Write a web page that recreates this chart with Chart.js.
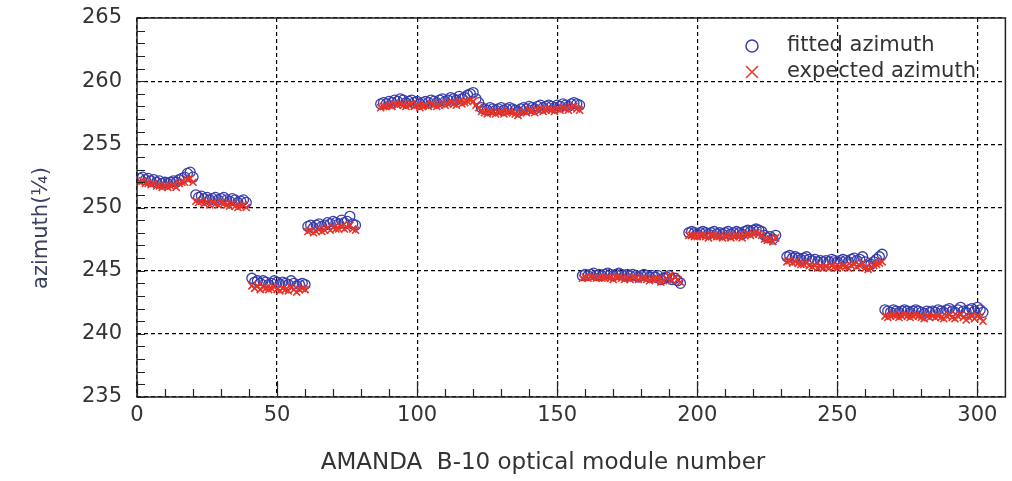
<!DOCTYPE html>
<html>
<head>
<meta charset="utf-8">
<script src="https://cdn.jsdelivr.net/npm/chart.js@4/dist/chart.umd.min.js"></script>
<style>
html,body{margin:0;padding:0;background:#fff;}
#wrap{width:1012px;height:481px;}
</style>
</head>
<body>
<div id="wrap"><canvas id="c" width="1012" height="481"></canvas></div>
<script>
// Tick labels
const xTicks = [0, 50, 100, 150, 200, 250, 300];
const yTicks = [235, 240, 245, 250, 255, 260, 265];

// First module number of each string
const stringStarts = [1, 21, 41, 61, 87, 123, 159, 197, 232, 267];

// Fitted azimuth per string (consecutive modules)
const fitted1 = [252.3,252.4,252.2,252.3,252.1,252.2,252.0,252.1,251.9,252.0,251.9,252.0,252.1,252.0,252.2,252.3,252.4,252.7,252.8,252.4];
const fitted2 = [251.0,250.8,250.9,250.7,250.8,250.6,250.7,250.8,250.6,250.7,250.8,250.6,250.5,250.7,250.6,250.4,250.5,250.6,250.4];
const fitted3 = [244.4,244.1,244.2,244.0,244.2,244.1,243.9,244.0,244.2,244.1,243.9,244.1,244.0,243.9,244.2,244.0,243.8,243.9,244.0,243.9];
const fitted4 = [248.5,248.6,248.4,248.6,248.7,248.5,248.6,248.8,248.7,248.9,248.8,248.7,249.0,248.8,248.9,249.3,248.7,248.6];
const fitted5 = [258.2,258.3,258.2,258.4,258.3,258.5,258.4,258.6,258.5,258.3,258.4,258.5,258.3,258.4,258.2,258.3,258.4,258.3,258.5,258.4,258.3,258.5,258.6,258.4,258.5,258.7,258.6,258.5,258.8,258.6,258.7,258.9,259.0,259.1,258.6,258.3];
const fitted6 = [257.9,257.8,257.7,257.9,257.8,257.7,257.8,257.9,257.7,257.8,257.9,257.8,257.7,257.6,257.8,257.9,257.8,258.0,257.9,257.8,258.0,258.1,257.9,258.0,258.1,258.0,257.9,258.1,258.0,258.2,258.1,258.0,258.2,258.3,258.2,258.1];
const fitted7 = [244.6,244.7,244.6,244.7,244.8,244.6,244.7,244.6,244.7,244.8,244.7,244.6,244.7,244.8,244.7,244.6,244.7,244.6,244.7,244.6,244.5,244.6,244.7,244.6,244.5,244.6,244.5,244.6,244.3,244.4,244.5,244.6,244.3,244.4,244.2,244.0];
const fitted8 = [248.0,248.1,248.0,247.9,248.0,248.1,248.0,247.9,248.0,248.1,247.9,248.0,247.9,248.0,248.1,247.9,248.0,248.1,248.0,247.9,248.1,248.2,248.1,248.2,248.3,248.2,248.1,247.8,247.6,247.7,247.5,247.8];
const fitted9 = [246.1,246.2,246.0,246.1,246.0,245.9,246.0,246.1,245.9,245.8,245.9,245.7,245.8,245.7,245.8,245.7,245.9,245.8,245.7,245.8,245.9,245.8,245.7,245.9,246.0,245.8,245.9,246.1,245.7,245.4,245.5,245.7,245.9,246.1,246.3];
const fitted10 = [241.9,241.8,241.7,241.9,241.8,241.7,241.8,241.9,241.8,241.7,241.8,241.9,241.8,241.7,241.6,241.8,241.7,241.8,241.7,241.9,241.8,241.7,241.9,242.0,241.8,241.7,241.9,242.1,241.8,241.7,241.9,242.0,241.8,242.1,241.9,241.7];

// Expected azimuth per string
const expected1 = [252.0,252.1,251.9,251.9,251.8,251.9,251.7,251.7,251.6,251.7,251.6,251.7,251.8,251.6,251.9,252.0,252.0,252.2,252.3,252.0];
const expected2 = [250.5,250.4,250.5,250.3,250.4,250.2,250.4,250.3,250.2,250.4,250.3,250.2,250.1,250.3,250.1,250.0,250.1,250.2,250.0];
const expected3 = [243.8,243.6,243.8,243.5,243.7,243.6,243.5,243.6,243.7,243.5,243.4,243.6,243.5,243.4,243.7,243.5,243.3,243.5,243.6,243.5];
const expected4 = [248.1,248.2,248.0,248.1,248.3,248.1,248.2,248.4,248.2,248.4,248.3,248.3,248.5,248.3,248.4,248.6,248.3,248.2];
const expected5 = [257.9,258.0,258.0,258.1,258.0,258.2,258.1,258.2,258.1,258.0,258.1,258.2,258.0,258.1,257.9,258.0,258.1,258.0,258.2,258.1,258.0,258.1,258.3,258.1,258.2,258.3,258.2,258.1,258.4,258.2,258.3,258.4,258.5,258.4,258.1,257.9];
const expected6 = [257.6,257.5,257.4,257.6,257.5,257.4,257.5,257.6,257.4,257.5,257.6,257.5,257.4,257.3,257.5,257.6,257.5,257.7,257.6,257.5,257.7,257.8,257.6,257.7,257.8,257.7,257.6,257.8,257.7,257.9,257.8,257.7,257.9,258.0,257.8,257.7];
const expected7 = [244.4,244.5,244.4,244.5,244.5,244.4,244.5,244.4,244.4,244.5,244.4,244.3,244.5,244.5,244.4,244.3,244.4,244.3,244.5,244.4,244.3,244.4,244.4,244.3,244.2,244.3,244.3,244.4,244.1,244.2,244.4,244.6,244.2,244.5,244.3,244.1];
const expected8 = [247.8,247.8,247.7,247.7,247.8,247.8,247.7,247.6,247.8,247.8,247.7,247.7,247.6,247.7,247.8,247.6,247.7,247.8,247.7,247.6,247.8,247.9,247.8,247.9,248.0,247.9,247.8,247.5,247.4,247.5,247.3,247.6];
const expected9 = [245.7,245.8,245.6,245.7,245.6,245.5,245.5,245.6,245.4,245.3,245.4,245.2,245.3,245.2,245.3,245.2,245.4,245.3,245.2,245.3,245.4,245.3,245.2,245.4,245.5,245.3,245.4,245.6,245.2,245.1,245.2,245.4,245.5,245.6,245.7];
const expected10 = [241.4,241.3,241.4,241.5,241.4,241.3,241.4,241.5,241.4,241.3,241.4,241.5,241.4,241.3,241.2,241.4,241.3,241.4,241.3,241.4,241.3,241.2,241.4,241.5,241.3,241.2,241.4,241.5,241.3,241.1,241.3,241.4,241.2,241.4,241.3,241.0];

const fittedStrings = [fitted1,fitted2,fitted3,fitted4,fitted5,fitted6,fitted7,fitted8,fitted9,fitted10];
const expectedStrings = [expected1,expected2,expected3,expected4,expected5,expected6,expected7,expected8,expected9,expected10];

const yTitle = 'azimuth(¼)';
const xTitle = 'AMANDA  B-10 optical module number';

function toPoints(strings){
  const pts = [];
  strings.forEach((vals, s) => {
    vals.forEach((v, i) => pts.push({x: stringStarts[s] + i, y: v}));
  });
  return pts;
}

const BLUE = 'rgb(55,60,170)';
const RED = 'rgb(232,52,40)';
const TXT = '#333';
const FONT = "'DejaVu Sans', sans-serif";

const framePlugin = {
  id: 'frame',
  afterDraw(chart){
    const {ctx, chartArea: a, scales} = chart;
    const xs = scales.x, ys = scales.y;
    ctx.save();
    ctx.strokeStyle = '#222';
    ctx.lineWidth = 1.5;
    ctx.setLineDash([]);
    ctx.strokeRect(a.left, a.top, a.right - a.left, a.bottom - a.top);
    ctx.lineWidth = 1.2;
    ctx.beginPath();
    for (let v = ys.min; v <= ys.max; v += 1) {
      const p = Math.round(ys.getPixelForValue(v)) + 0.5;
      ctx.moveTo(a.left, p); ctx.lineTo(a.left + 8, p);
    }
    for (let v = xs.min; v <= 300; v += 10) {
      const p = Math.round(xs.getPixelForValue(v)) + 0.5;
      const len = (v % 50 === 0) ? 16 : 8;
      ctx.moveTo(p, a.bottom); ctx.lineTo(p, a.bottom - len);
    }
    ctx.stroke();
    // y-axis title
    ctx.save();
    ctx.translate(42, 228);
    ctx.rotate(-Math.PI / 2);
    ctx.fillStyle = '#3a4060';
    ctx.font = "21px " + FONT;
    ctx.textAlign = 'center';
    ctx.textBaseline = 'middle';
    ctx.fillText(yTitle, 0, 0);
    ctx.restore();
    // x-axis title
    ctx.fillStyle = TXT;
    ctx.font = "23px " + FONT;
    ctx.textAlign = 'center';
    ctx.textBaseline = 'middle';
    ctx.fillText(xTitle, 543, 463);
    // legend
    const lx = 752, ly1 = 46, ly2 = 72;
    ctx.lineWidth = 1.5;
    ctx.strokeStyle = BLUE;
    ctx.beginPath(); ctx.arc(lx, ly1, 6, 0, Math.PI*2); ctx.stroke();
    ctx.strokeStyle = RED;
    ctx.beginPath();
    ctx.moveTo(lx-6, ly2-6); ctx.lineTo(lx+6, ly2+6);
    ctx.moveTo(lx+6, ly2-6); ctx.lineTo(lx-6, ly2+6);
    ctx.stroke();
    ctx.fillStyle = TXT;
    ctx.font = "21px " + FONT;
    ctx.textBaseline = 'middle';
    ctx.textAlign = 'left';
    ctx.fillText(chart.data.datasets[0].label, 787, ly1);
    ctx.fillText(chart.data.datasets[1].label, 787, ly2);
    ctx.restore();
  }
};

new Chart(document.getElementById('c'), {
  type: 'scatter',
  data: {
    datasets: [
      {
        label: 'fitted azimuth',
        data: toPoints(fittedStrings),
        pointStyle: 'circle',
        pointRadius: 5,
        pointBorderWidth: 1.3,
        borderColor: BLUE,
        backgroundColor: 'rgba(0,0,0,0)',
        order: 1
      },
      {
        label: 'expected azimuth',
        data: toPoints(expectedStrings),
        pointStyle: 'crossRot',
        pointRadius: 5,
        pointBorderWidth: 1.6,
        borderColor: RED,
        backgroundColor: RED,
        order: 0
      }
    ]
  },
  options: {
    responsive: false,
    animation: false,
    layout: {padding: {left: 58, right: 5, top: 18, bottom: 4}},
    plugins: {legend: {display: false}, tooltip: {enabled: false}},
    scales: {
      x: {
        type: 'linear',
        min: 0, max: 310,
        afterBuildTicks(s){ s.ticks = xTicks.map(v => ({value: v})); },
        afterFit(s){ s.height = 80; s.paddingLeft = 0; s.paddingRight = 0; },
        grid: {color: '#000', lineWidth: 1.2, drawTicks: false},
        border: {display: false, dash: [4, 3]},
        ticks: {color: TXT, font: {family: FONT, size: 21}, padding: 6, maxRotation: 0},
        title: {display: false}
      },
      y: {
        type: 'linear',
        min: 235, max: 265,
        afterBuildTicks(s){ s.ticks = yTicks.map(v => ({value: v})); },
        afterFit(s){ s.width = 79; s.paddingTop = 0; s.paddingBottom = 0; },
        grid: {color: '#000', lineWidth: 1.2, drawTicks: false},
        border: {display: false, dash: [4, 3]},
        ticks: {color: TXT, font: {family: FONT, size: 21}, padding: 15},
        title: {display: false}
      }
    }
  },
  plugins: [framePlugin]
});
</script>
</body>
</html>
